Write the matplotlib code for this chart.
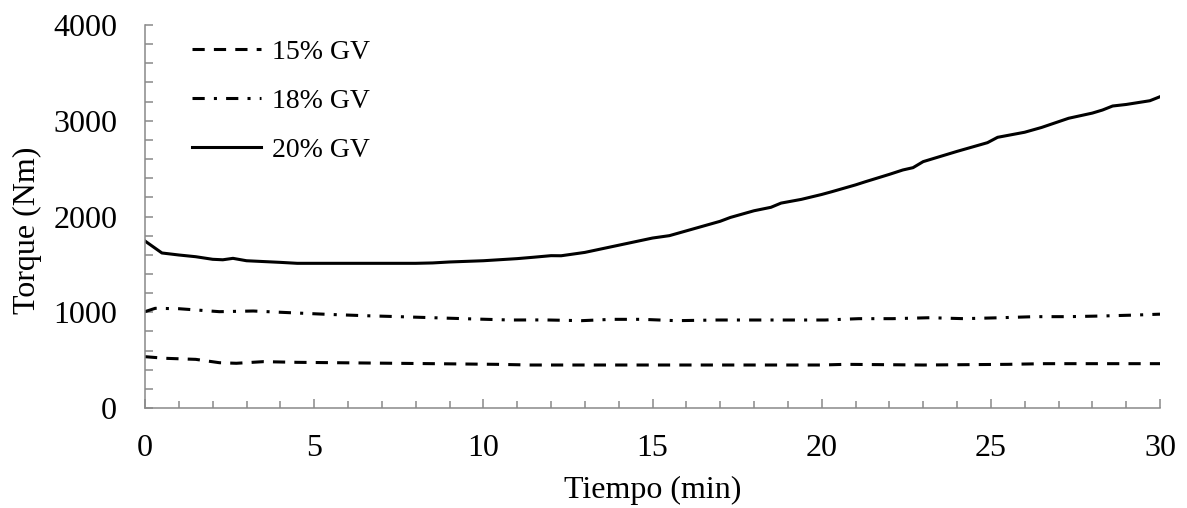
from matplotlib import pyplot as plt
from matplotlib.ticker import MultipleLocator
import numpy as np

# 15% GV
t_15 = [0, 0.6, 1.5, 2.2, 2.7, 3.5, 4.5, 6.5, 8.5, 10.4, 11.4, 12.9, 15, 18, 20, 20.7, 23, 25.5, 26.6, 28, 30]
tq_15 = [536, 519, 508, 473, 467, 484, 477, 470, 463, 456, 449, 449, 449, 449, 449, 456, 449, 456, 463, 463, 463]

# 18% GV
t_18 = [0, 0.3, 1.0, 2.2, 3.2, 4.3, 5.4, 6.5, 7.5, 8.5, 9.7, 10.8, 11.8, 12.9, 13.8, 14.7, 15.7,
        16.9, 18.0, 19.1, 20.1, 21.1, 22.1, 23.2, 24.2, 25.2, 26.3, 27.3, 28.3, 29.3, 30]
tq_18 = [1006, 1041, 1037, 1006, 1013, 995, 978, 964, 954, 943, 930, 919, 920, 912, 926, 926, 912,
         919, 919, 919, 919, 933, 933, 943, 933, 942, 954, 954, 961, 971, 980]

# 20% GV
t_20 = [0, 0.5, 1, 1.5, 2, 2.3, 2.6, 3, 4, 4.5, 8, 8.5, 9, 10, 11, 11.5, 12, 12.3, 13, 14, 15, 15.5,
        16, 17, 17.3, 18, 18.5, 18.8, 19.4, 20, 20.3, 21, 21.3, 22, 22.4, 22.7, 23, 24, 24.9, 25.2,
        26, 26.5, 27.3, 28, 28.3, 28.6, 29, 29.7, 30]
tq_20 = [1744, 1619, 1598, 1580, 1553, 1548, 1563, 1538, 1521, 1511, 1511, 1515, 1525, 1538, 1560,
         1575, 1591, 1590, 1625, 1700, 1775, 1800, 1850, 1950, 1990, 2060, 2096, 2140, 2179, 2230,
         2259, 2330, 2364, 2440, 2486, 2510, 2573, 2680, 2771, 2827, 2880, 2930, 3026, 3080, 3112,
         3154, 3170, 3209, 3251]

plt.rcParams['font.family'] = ['Liberation Serif', 'DejaVu Serif']
plt.rcParams['font.size'] = 23

fig = plt.figure(figsize=(11.87, 5.08), dpi=100)
ax = fig.add_axes([145 / 1187, 100 / 508, 1015 / 1187, 383 / 508])

lw = 2.2
ax.plot(t_15, tq_15, c='k', lw=lw, dashes=(4, 3), label='15% GV')
ax.plot(t_18, tq_18, c='k', lw=lw, dashes=(4, 3, 1, 3), label='18% GV')
ax.plot(t_20, tq_20, c='k', lw=lw, label='20% GV')

ax.set_xlim(0, 30)
ax.set_ylim(0, 4000)
ax.xaxis.set_major_locator(MultipleLocator(5))
ax.xaxis.set_minor_locator(MultipleLocator(1))
ax.yaxis.set_major_locator(MultipleLocator(1000))
ax.yaxis.set_minor_locator(MultipleLocator(200))

gray = '#898989'
for side in ['top', 'right']:
    ax.spines[side].set_visible(False)
for side in ['left', 'bottom']:
    ax.spines[side].set_color(gray)
    ax.spines[side].set_linewidth(1.1)

ax.tick_params(axis='x', which='major', direction='in', length=6.7, width=1.1, color=gray, pad=19)
ax.tick_params(axis='x', which='minor', direction='in', length=4.8, width=1.1, color=gray)
ax.tick_params(axis='y', which='both', direction='in', length=5.5, width=1.1, color=gray, pad=20)

ax.set_xlabel('Tiempo (min)', labelpad=9)
ax.set_ylabel('Torque (Nm)', labelpad=8)
ax.yaxis.label.set_y(0.465)

ax.legend(loc='upper left', bbox_to_anchor=(0.035, 0.991), frameon=False, fontsize=20,
          handlelength=2.5, handletextpad=0.41, labelspacing=0.85, borderaxespad=0)

fig.savefig('out.png', dpi=100)
